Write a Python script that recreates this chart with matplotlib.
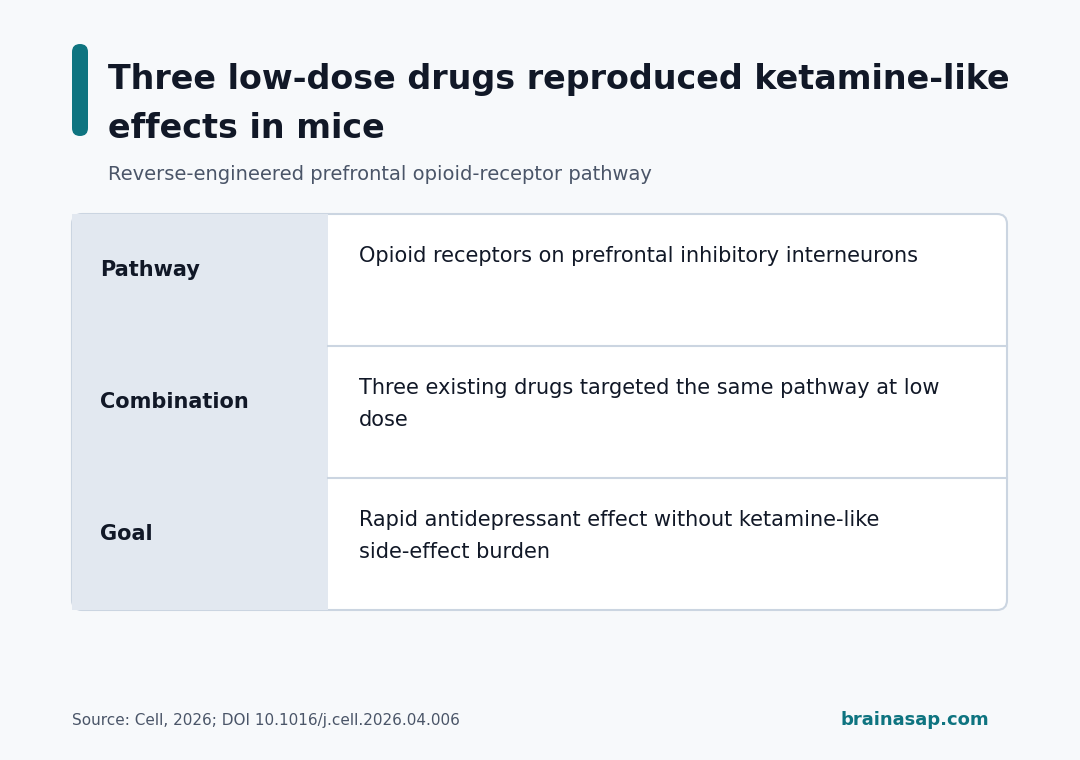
import matplotlib.pyplot as plt
from matplotlib.patches import FancyBboxPatch, Rectangle

title_lines = ["Three low-dose drugs reproduced ketamine-like", "effects in mice"]
subtitle = "Reverse-engineered prefrontal opioid-receptor pathway"
row_labels = ["Pathway", "Combination", "Goal"]
row_texts = [
    ["Opioid receptors on prefrontal inhibitory interneurons"],
    ["Three existing drugs targeted the same pathway at low", "dose"],
    ["Rapid antidepressant effect without ketamine-like", "side-effect burden"],
]
source = "Source: Cell, 2026; DOI 10.1016/j.cell.2026.04.006"
brand = "brainasap.com"

teal = "#0e7480"
dark = "#111827"
grey = "#4a5568"

fig = plt.figure(figsize=(10.8, 7.6), dpi=100)
fig.patch.set_facecolor("#f7f9fb")
ax = fig.add_axes([0, 0, 1, 1])
ax.set_xlim(0, 1080)
ax.set_ylim(760, 0)
ax.axis("off")

# accent bar
ax.add_patch(FancyBboxPatch((72, 44), 16, 92, boxstyle="round,pad=0,rounding_size=8",
                            fc=teal, ec="none"))
for i, line in enumerate(title_lines):
    ax.text(108, 80 + i * 48, line, fontsize=24, fontweight="bold", color=dark, va="center")
ax.text(108, 174, subtitle, fontsize=14, color=grey, va="center")

# table
x0, x1, xs = 72, 1007, 328
y0, rh = 214, 132
n = len(row_labels)
ax.add_patch(FancyBboxPatch((x0, y0), x1 - x0, rh * n, boxstyle="round,pad=0,rounding_size=10",
                            fc="white", ec="#cbd5e1", lw=1.5))
ax.add_patch(Rectangle((x0, y0), xs - x0, rh * n, fc="#e2e8f0", ec="none"))
for i in range(1, n):
    ax.plot([xs, x1], [y0 + i * rh] * 2, color="#cbd5e1", lw=1.5)

for i, (lab, lines) in enumerate(zip(row_labels, row_texts)):
    top = y0 + i * rh
    ax.text(100, top + 56, lab, fontsize=15, fontweight="bold", color=dark, va="center")
    for j, line in enumerate(lines):
        ax.text(359, top + 42 + j * 32, line, fontsize=15, color=dark, va="center")

ax.text(72, 720, source, fontsize=11, color=grey, va="center")
ax.text(989, 720, brand, fontsize=13, fontweight="bold", color=teal, va="center", ha="right")

fig.savefig("out.png", dpi=100, facecolor=fig.get_facecolor())
